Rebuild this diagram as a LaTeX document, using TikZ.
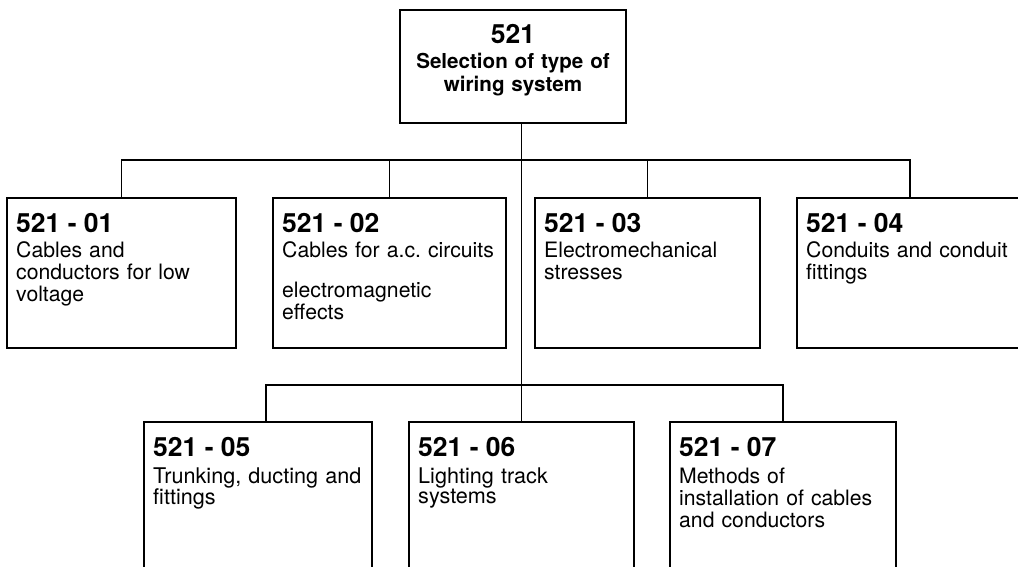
\documentclass[tikz,border=0pt]{standalone}
\usepackage{fontspec}
\setmainfont{TeX Gyre Heros}
\begin{document}
\begin{tikzpicture}[x=1pt,y=-1pt,
  box/.style={draw, line width=1.6pt, inner sep=0pt},
  link/.style={line width=1.2pt},
  head/.style={inner sep=0pt, font=\bfseries\fontsize{26.5}{28}\selectfont},
  body/.style={inner sep=0pt, text width=222pt, align=left,
               font=\frenchspacing\fontsize{21.2}{22}\selectfont},
  tight/.style={font=\frenchspacing\fontsize{21.6}{20}\selectfont},
  toptext/.style={inner sep=0pt, text width=220pt, align=center,
                  font=\bfseries\fontsize{20.6}{23}\selectfont}]
\clip (0,0) rectangle (1018,566);

% top box
\node[box, minimum width=226pt, minimum height=113pt] (top) at (513,66.5) {};
\node[inner sep=0pt, anchor=base, font=\bfseries\fontsize{26.5}{28}\selectfont] (topn) at (513,43) {521};
\node[toptext, anchor=base] (topt) at (513,68) {Selection of type of\\wiring system};

% first row
\node[box, minimum width=229pt, minimum height=150pt] (b1) at (121.5,273) {};
\node[box, minimum width=233pt, minimum height=150pt] (b2) at (389.5,273) {};
\node[box, minimum width=225pt, minimum height=150pt] (b3) at (647.5,273) {};
\node[box, minimum width=226pt, minimum height=150pt] (b4) at (910,273) {};

\node[head, anchor=base west] (b1h) at (16,232) {521 - 01};
\node[body, anchor=base west] (b1b) at (16,257) {Cables and\\conductors for low\\voltage};
\node[head, anchor=base west] (b2h) at (282,232) {521 - 02};
\node[body, anchor=base west] (b2b) at (282,257) {Cables for a.c. circuits\\[18pt]electromagnetic\\effects};
\node[head, anchor=base west] (b3h) at (544,232) {521 - 03};
\node[body, anchor=base west] (b3b) at (544,257) {Electromechanical\\stresses};
\node[head, anchor=base west] (b4h) at (806,232) {521 - 04};
\node[body, anchor=base west] (b4b) at (806,257) {Conduits and conduit\\fittings};

% second row
\node[box, minimum width=228pt, minimum height=178pt] (b5) at (258,511) {};
\node[box, minimum width=225pt, minimum height=178pt] (b6) at (521.5,511) {};
\node[box, minimum width=226pt, minimum height=178pt] (b7) at (783,511) {};

\node[head, anchor=base west] (b5h) at (153,456) {521 - 05};
\node[body, tight, anchor=base west] (b5b) at (153,483) {Trunking, ducting and\\fittings};
\node[head, anchor=base west] (b6h) at (418,456) {521 - 06};
\node[body, tight, anchor=base west] (b6b) at (418,483) {Lighting track\\systems};
\node[head, anchor=base west] (b7h) at (679,456) {521 - 07};
\node[body, anchor=base west] (b7b) at (679,483) {Methods of\\installation of cables\\and conductors};

% connectors
\coordinate (bus1) at (521,160);
\coordinate (bus2) at (521,385);
\coordinate (d5) at (266,422);
\draw[link] (top.south -| b6.north) -- (b6.north);
\draw[link] (b1.north) -- (b1.north |- bus1) -- (b4.north |- bus1) -- (b4.north);
\draw[link] (b2.north) -- (b2.north |- bus1);
\draw[link] (b3.north) -- (b3.north |- bus1);
\draw[link] (d5) -- (d5 |- bus2) -- (b7.north |- bus2) -- (b7.north);
\end{tikzpicture}
\end{document}
